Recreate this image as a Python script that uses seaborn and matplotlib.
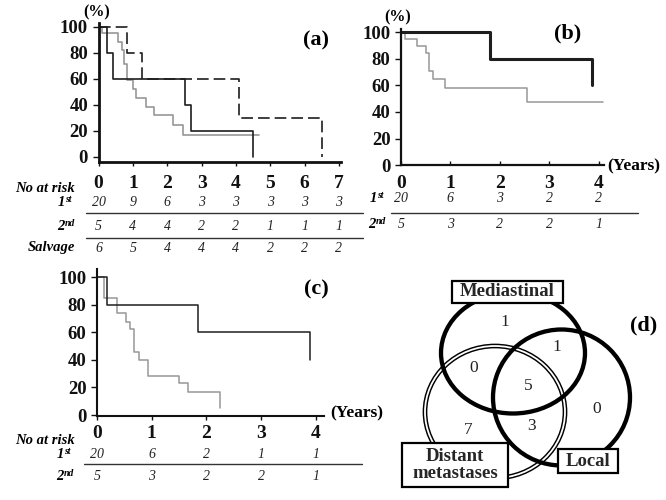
import numpy as np
import pandas as pd
import matplotlib
matplotlib.use('Agg')
import matplotlib.pyplot as plt
import seaborn as sns
from matplotlib.patches import Ellipse, Rectangle
from matplotlib import transforms

sns.set_theme(style='ticks')
plt.rcParams['font.family'] = ['Liberation Serif', 'DejaVu Serif']

# ---------------- data ----------------
# panel (a)
a_first_t = [0, 0.1, 0.57, 0.67, 0.75, 0.82, 1.0, 1.08, 1.39, 1.62, 2.18, 2.45, 4.66]
a_first_s = [100, 95, 88.5, 82.5, 71.5, 59, 52, 45, 38, 32, 24.5, 16.5, 16.5]
a_second_t = [0, 0.25, 0.41, 2.53, 2.7, 4.51]
a_second_s = [100, 80, 60, 40, 20, 0]
a_salv_t = [0, 0.84, 1.26, 4.1, 6.5]
a_salv_s = [100, 80, 60, 30, 0]
a_years = [0, 1, 2, 3, 4, 5, 6, 7]
a_risk_first = [20, 9, 6, 3, 3, 3, 3, 3]
a_risk_second = [5, 4, 4, 2, 2, 1, 1, 1]
a_risk_salv = [6, 5, 4, 4, 4, 2, 2, 2]

# panel (b)
b_first_t = [0, 0.08, 0.32, 0.5, 0.57, 0.64, 0.9, 2.55, 4.09]
b_first_s = [100, 95, 89.5, 84, 71, 65, 58, 47.5, 47.5]
b_second_t = [0, 1.81, 3.86]
b_second_s = [100, 80, 60]
b_years = [0, 1, 2, 3, 4]
b_risk_first = [20, 6, 3, 2, 2]
b_risk_second = [5, 3, 2, 2, 1]

# panel (c)
c_first_t = [0, 0.12, 0.36, 0.53, 0.61, 0.68, 0.77, 0.94, 1.5, 1.67, 2.25]
c_first_s = [100, 84.7, 73.8, 67.8, 62.2, 45.5, 40, 28.3, 23, 17, 5.2]
c_second_t = [0, 0.19, 1.84, 3.9]
c_second_s = [100, 80, 60, 40]
c_years = [0, 1, 2, 3, 4]
c_risk_first = [20, 6, 2, 1, 1]
c_risk_second = [5, 3, 2, 2, 1]

y_ticks = [0, 20, 40, 60, 80, 100]

# panel (d) Venn
venn_sets = ['Mediastinal', 'Local', 'Distant\nmetastases']
venn_counts = {'M': 1, 'ML': 1, 'MD': 0, 'MLD': 5, 'L': 0, 'D': 7, 'LD': 3}

# ---------------- figure ----------------
W, H = 666, 500
fig = plt.figure(figsize=(W / 100, H / 100), dpi=100)


def px_axes(left, right, top, bottom):
    return fig.add_axes([left / W, 1 - bottom / H, (right - left) / W, (bottom - top) / H])


ov = fig.add_axes([0, 0, 1, 1], zorder=10)
ov.set_xlim(0, W)
ov.set_ylim(H, 0)
ov.axis('off')


def km(ax, t, s, color, lw, ls='-'):
    df = pd.DataFrame({'t': t, 's': s})
    sns.lineplot(data=df, x='t', y='s', ax=ax, color=color, linewidth=lw,
                 linestyle=ls, drawstyle='steps-post', estimator=None, sort=False)


def style_axes(ax, xmax, ylim, years, spine_w, xtick_dir='out', xpad=6.5):
    ax.set_xlim(0, xmax)
    ax.set_ylim(*ylim)
    ax.set_xlabel('')
    ax.set_ylabel('')
    sns.despine(ax=ax)
    for sp in ['left', 'bottom']:
        ax.spines[sp].set_linewidth(spine_w)
        ax.spines[sp].set_color('#111111')
    ax.set_yticks(y_ticks)
    ax.set_yticklabels([str(v) for v in y_ticks], fontweight='bold', fontsize=13.5)
    ax.set_xticks(years)
    ax.set_xticklabels([str(v) for v in years], fontweight='bold', fontsize=14)
    ax.tick_params(axis='y', direction='out', length=4, width=1, pad=3.5, colors='#111111')
    ax.tick_params(axis='x', direction=xtick_dir, length=3, width=1, pad=xpad, colors='#111111')
    ax.patch.set_alpha(0)


GREY = '#979797'
BLACK = '#1e1e1e'

# panel (a)
axa = px_axes(98.5, 340.7, 23, 162)
km(axa, a_first_t, a_first_s, GREY, 1.2)
km(axa, a_second_t, a_second_s, BLACK, 1.2)
km(axa, a_salv_t, a_salv_s, BLACK, 1.2, (0, (7, 3)))
style_axes(axa, 7.05, (-4, 103), a_years, 2.0, xpad=6)

# panel (b)
axb = px_axes(401, 604, 28.7, 165.3)
km(axb, b_first_t, b_first_s, GREY, 1.1)
km(axb, b_second_t, b_second_s, BLACK, 2.2)
style_axes(axb, 4.11, (0, 102.5), b_years, 1.6, xtick_dir='in', xpad=7)

# panel (c)
axc = px_axes(97, 324, 269, 416.4)
km(axc, c_first_t, c_first_s, GREY, 1.1)
km(axc, c_second_t, c_second_s, BLACK, 1.1)
style_axes(axc, 4.15, (-1, 106), c_years, 1.5, xpad=3.5)


def T(x, y, s, size=11, weight='normal', style='normal', ha='center', **kw):
    ov.text(x, y, s, fontsize=size, fontweight=weight, fontstyle=style,
            ha=ha, va='center', color='black', **kw)


# panel labels
T(97, 12, '(%)', 11.5, 'bold')
T(316, 40, '(a)', 16, 'bold')
T(398, 17, '(%)', 11.5, 'bold')
T(568, 33, '(b)', 16, 'bold')
T(607, 166, '(Years)', 12.5, 'bold', ha='left')
T(316, 289, '(c)', 16, 'bold')
T(330, 413, '(Years)', 12.5, 'bold', ha='left')
T(644, 325, '(d)', 16, 'bold')


def sup_label(xsplit, y, base, sup):
    T(xsplit, y, base, 10.5, 'bold', 'italic', ha='right')
    T(xsplit, y - 3, sup, 7, 'bold', 'italic', ha='left')


def risk_row(ax, years, vals, y):
    tr = transforms.blended_transform_factory(ax.transData, ov.transData)
    for xv, v in zip(years, vals):
        ov.text(xv, y, str(v), transform=tr, fontsize=10, fontstyle='italic',
                ha='center', va='center', color='#222222')


# panel (a) risk table
T(75, 188, 'No at risk', 10.5, 'bold', 'italic', ha='right')
sup_label(65, 202, '1', 'st')
risk_row(axa, a_years, a_risk_first, 202)
ov.plot([86, 363], [213, 213], color='#333333', lw=1.0)
sup_label(65, 226, '2', 'nd')
risk_row(axa, a_years, a_risk_second, 226)
ov.plot([86, 363], [238, 238], color='#333333', lw=1.0)
T(75, 248, 'Salvage', 10.5, 'bold', 'italic', ha='right')
risk_row(axa, a_years, a_risk_salv, 249)

# panel (b) risk table
sup_label(377, 199, '1', 'st')
risk_row(axb, b_years, b_risk_first, 199)
ov.plot([391, 638], [213, 213], color='#333333', lw=1.0)
sup_label(376, 225, '2', 'nd')
risk_row(axb, b_years, b_risk_second, 225)

# panel (c) risk table
T(75, 440, 'No at risk', 10.5, 'bold', 'italic', ha='right')
sup_label(64, 454, '1', 'st')
risk_row(axc, c_years, c_risk_first, 454)
ov.plot([84, 362], [464, 464], color='#333333', lw=1.0)
sup_label(64, 477, '2', 'nd')
risk_row(axc, c_years, c_risk_second, 477)

# panel (d) Venn diagram
ov.add_patch(Ellipse((495, 412), 140, 132, fill=False, ec='black', lw=3.4, zorder=1))
ov.add_patch(Ellipse((495, 412), 140, 132, fill=False, ec='white', lw=1.3, zorder=1.1))
ov.add_patch(Ellipse((513, 353), 144, 121, fill=False, ec='black', lw=3.1, zorder=2))
ov.add_patch(Ellipse((561.5, 397.5), 137, 136, fill=False, ec='black', lw=3.1, zorder=2))

boxes = [((452, 281, 111, 22), (507.5, 292), venn_sets[0]),
         ((558, 449, 60, 24), (588, 461), venn_sets[1]),
         ((402, 443, 106, 44), (455, 465), venn_sets[2])]
for (x0, y0, w, h), (tx, ty), lab in boxes:
    ov.add_patch(Rectangle((x0, y0), w, h, fc='white', ec='black', lw=1.6, zorder=3))
    ov.text(tx, ty, lab, fontsize=13.5, fontweight='bold', ha='center', va='center',
            zorder=4, linespacing=1.0)

venn_pos = {'M': (505, 322), 'ML': (557, 347), 'MD': (474, 368), 'MLD': (528, 386),
            'L': (597, 409), 'D': (468, 430), 'LD': (532, 426)}
for k, (x, y) in venn_pos.items():
    ov.text(x, y, str(venn_counts[k]), fontsize=12.5, ha='center', va='center',
            color='#222222', zorder=4)

fig.savefig('out.png', dpi=100)
